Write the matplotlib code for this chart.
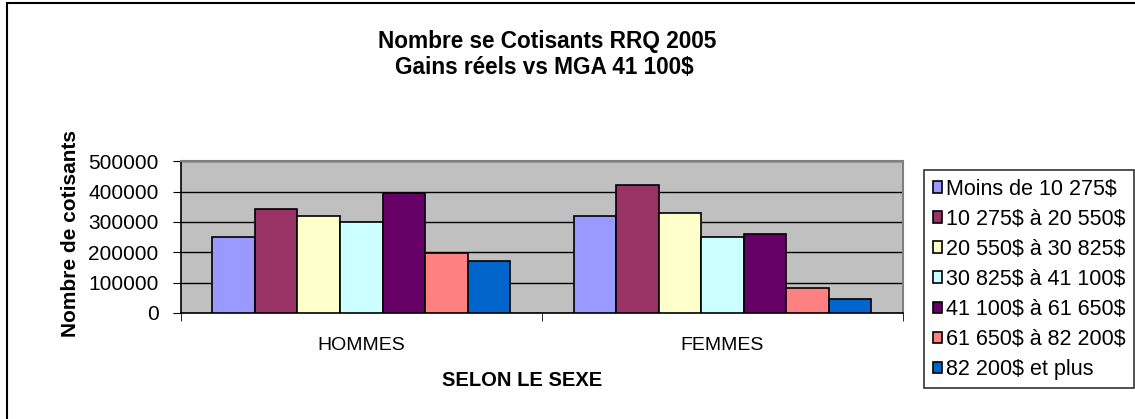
import numpy as np
import matplotlib
matplotlib.use("Agg")
import matplotlib.pyplot as plt
from matplotlib.patches import Rectangle

plt.rcParams["font.family"] = ["Liberation Sans", "DejaVu Sans"]
plt.rcParams["text.parse_math"] = False

categories = ["HOMMES", "FEMMES"]
tranches = [
    "Moins de 10 275$",
    "10 275$ à 20 550$",
    "20 550$ à 30 825$",
    "30 825$ à 41 100$",
    "41 100$ à 61 650$",
    "61 650$ à 82 200$",
    "82 200$ et plus",
]
hommes = [252000, 343000, 321000, 299000, 395000, 198000, 173000]
femmes = [321000, 422000, 330000, 252000, 260000, 82000, 47000]
colors = ["#9999FF", "#993366", "#FFFFCC", "#CCFFFF", "#660066", "#FF8080", "#0066CC"]


def plot():
    fig = plt.figure(figsize=(11.35, 4.19), dpi=100)
    ax = fig.add_axes([0.1592, 0.2530, 0.6364, 0.3620])
    ax.set_facecolor("#C0C0C0")

    x = np.arange(len(categories))
    n = len(tranches)
    width = 0.1178
    for i in range(n):
        vals = [hommes[i], femmes[i]]
        offset = (i - (n - 1) / 2) * width
        ax.bar(x + offset, vals, width, color=colors[i], edgecolor="black",
               linewidth=1.2, label=tranches[i], zorder=3)

    ax.set_xlim(-0.5, 1.5)
    ax.set_ylim(0, 500000)
    ax.set_yticks(np.arange(0, 500001, 100000))
    ax.yaxis.grid(True, color="black", linewidth=1, zorder=1)
    ax.set_axisbelow(True)

    ax.set_xticks(x)
    ax.set_xticklabels(categories, fontsize=14)
    ax.tick_params(axis="x", which="major", length=0, pad=17)
    ax.set_xticks([-0.5, 0.5, 1.5], minor=True)
    ax.tick_params(axis="x", which="minor", length=6, direction="out", color="black")
    ax.tick_params(axis="y", labelsize=15, length=6, direction="out", pad=10)

    for side in ["top", "right"]:
        ax.spines[side].set_color("#808080")
        ax.spines[side].set_linewidth(1.5)
    for side in ["left", "bottom"]:
        ax.spines[side].set_color("black")
        ax.spines[side].set_linewidth(1.2)

    ax.set_xlabel("SELON LE SEXE", fontsize=14.5, fontweight="bold")
    ax.xaxis.set_label_coords(0.4725, -0.38)
    ax.set_ylabel("Nombre de cotisants", fontsize=15, fontweight="bold")
    ax.yaxis.set_label_coords(-0.140, 0.527)

    fig.text(0.482, 0.902, "Nombre se Cotisants RRQ 2005", ha="center", va="center",
             fontsize=16.3, fontweight="bold")
    fig.text(0.480, 0.838, "Gains réels vs MGA 41 100$", ha="center", va="center",
             fontsize=16.3, fontweight="bold")

    leg = ax.legend(loc="upper left", bbox_to_anchor=(924 / 1135, 1 - 170 / 419),
                    bbox_transform=fig.transFigure, fontsize=15.5, frameon=True,
                    fancybox=False, edgecolor="black", borderaxespad=0,
                    handlelength=0.42, handleheight=0.42, handletextpad=0.2,
                    labelspacing=0.42, borderpad=0.4)
    leg.get_frame().set_linewidth(1.2)

    # cadre du graphique
    fig.patches.append(Rectangle((7 / 1135, -0.05), 1.1, 1.05 - 3 / 419,
                                 transform=fig.transFigure, fill=False,
                                 edgecolor="black", linewidth=1.5))

    fig.savefig("out.png", dpi=100)


if __name__ == "__main__":
    plot()
